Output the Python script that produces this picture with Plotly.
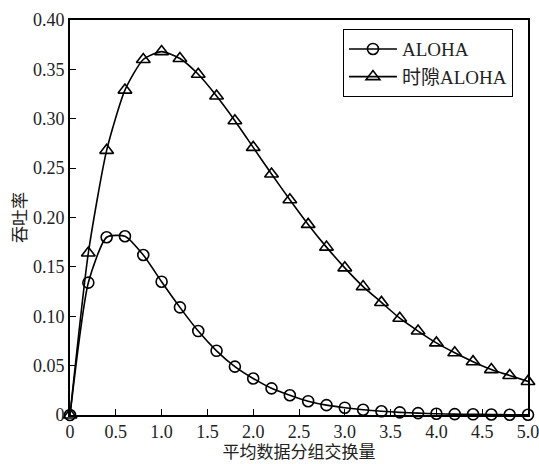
import plotly.graph_objects as go

G = [0.0, 0.2, 0.4, 0.6, 0.8, 1.0, 1.2, 1.4, 1.6, 1.8, 2.0, 2.2, 2.4, 2.6, 2.8,
     3.0, 3.2, 3.4, 3.6, 3.8, 4.0, 4.2, 4.4, 4.6, 4.8, 5.0]
aloha = [0.0, 0.134, 0.180, 0.181, 0.162, 0.135, 0.109, 0.085, 0.065, 0.049,
         0.037, 0.027, 0.020, 0.014, 0.010, 0.0074, 0.0053, 0.0038, 0.0027,
         0.0019, 0.0013, 0.0009, 0.0007, 0.0005, 0.0003, 0.0002]
slotted = [0.0, 0.164, 0.268, 0.329, 0.360, 0.368, 0.361, 0.345, 0.323, 0.298,
           0.271, 0.244, 0.218, 0.193, 0.170, 0.149, 0.130, 0.114, 0.098,
           0.085, 0.073, 0.063, 0.054, 0.046, 0.040, 0.034]

x_ticks = [0, 0.5, 1.0, 1.5, 2.0, 2.5, 3.0, 3.5, 4.0, 4.5, 5.0]
x_labels = ["0", "0.5", "1.0", "1.5", "2.0", "2.5", "3.0", "3.5", "4.0", "4.5", "5.0"]
y_ticks = [0, 0.05, 0.10, 0.15, 0.20, 0.25, 0.30, 0.35, 0.40]
y_labels = ["0", "0.05", "0.10", "0.15", "0.20", "0.25", "0.30", "0.35", "0.40"]

FONT = "Liberation Serif, Times New Roman, Noto Sans CJK SC, serif"

fig = go.Figure()
fig.add_trace(go.Scatter(
    x=G, y=aloha, name="ALOHA", mode="lines+markers",
    line=dict(color="black", width=1.6, shape="spline", smoothing=0.6),
    marker=dict(symbol="circle-open", size=11, color="black", line=dict(width=1.6)),
    cliponaxis=False))
fig.add_trace(go.Scatter(
    x=G, y=slotted, name="时隙ALOHA", mode="lines+markers",
    line=dict(color="black", width=1.6, shape="spline", smoothing=0.6),
    marker=dict(symbol="triangle-up-open", size=12, color="black", line=dict(width=1.6)),
    cliponaxis=False))

axis_common = dict(showline=True, linecolor="black", linewidth=1.6, mirror=True,
                   ticks="inside", ticklen=6, tickwidth=1.2, tickcolor="black",
                   showgrid=False, zeroline=False, automargin=False,
                   ticklabeloverflow="allow",
                   tickfont=dict(family=FONT, size=18, color="#222"))

fig.update_xaxes(range=[0, 5], tickvals=x_ticks, ticktext=x_labels,
                 title=dict(text="平均数据分组交换量", standoff=5,
                            font=dict(family=FONT, size=17, color="#222")),
                 **axis_common)
fig.update_yaxes(range=[0, 0.4], tickvals=y_ticks, ticktext=y_labels,
                 title=dict(text="吞吐率", standoff=2,
                            font=dict(family=FONT, size=17, color="#222")),
                 **axis_common)

fig.update_layout(
    width=539, height=464,
    margin=dict(l=70, r=11, t=20, b=49),
    paper_bgcolor="white", plot_bgcolor="white",
    legend=dict(x=0.596, y=0.977, xanchor="left", yanchor="top",
                bordercolor="black", borderwidth=1, bgcolor="white",
                font=dict(family=FONT, size=19, color="#222"),
                tracegroupgap=0, itemsizing="trace", itemwidth=48),
)

fig.write_html("out.html")
